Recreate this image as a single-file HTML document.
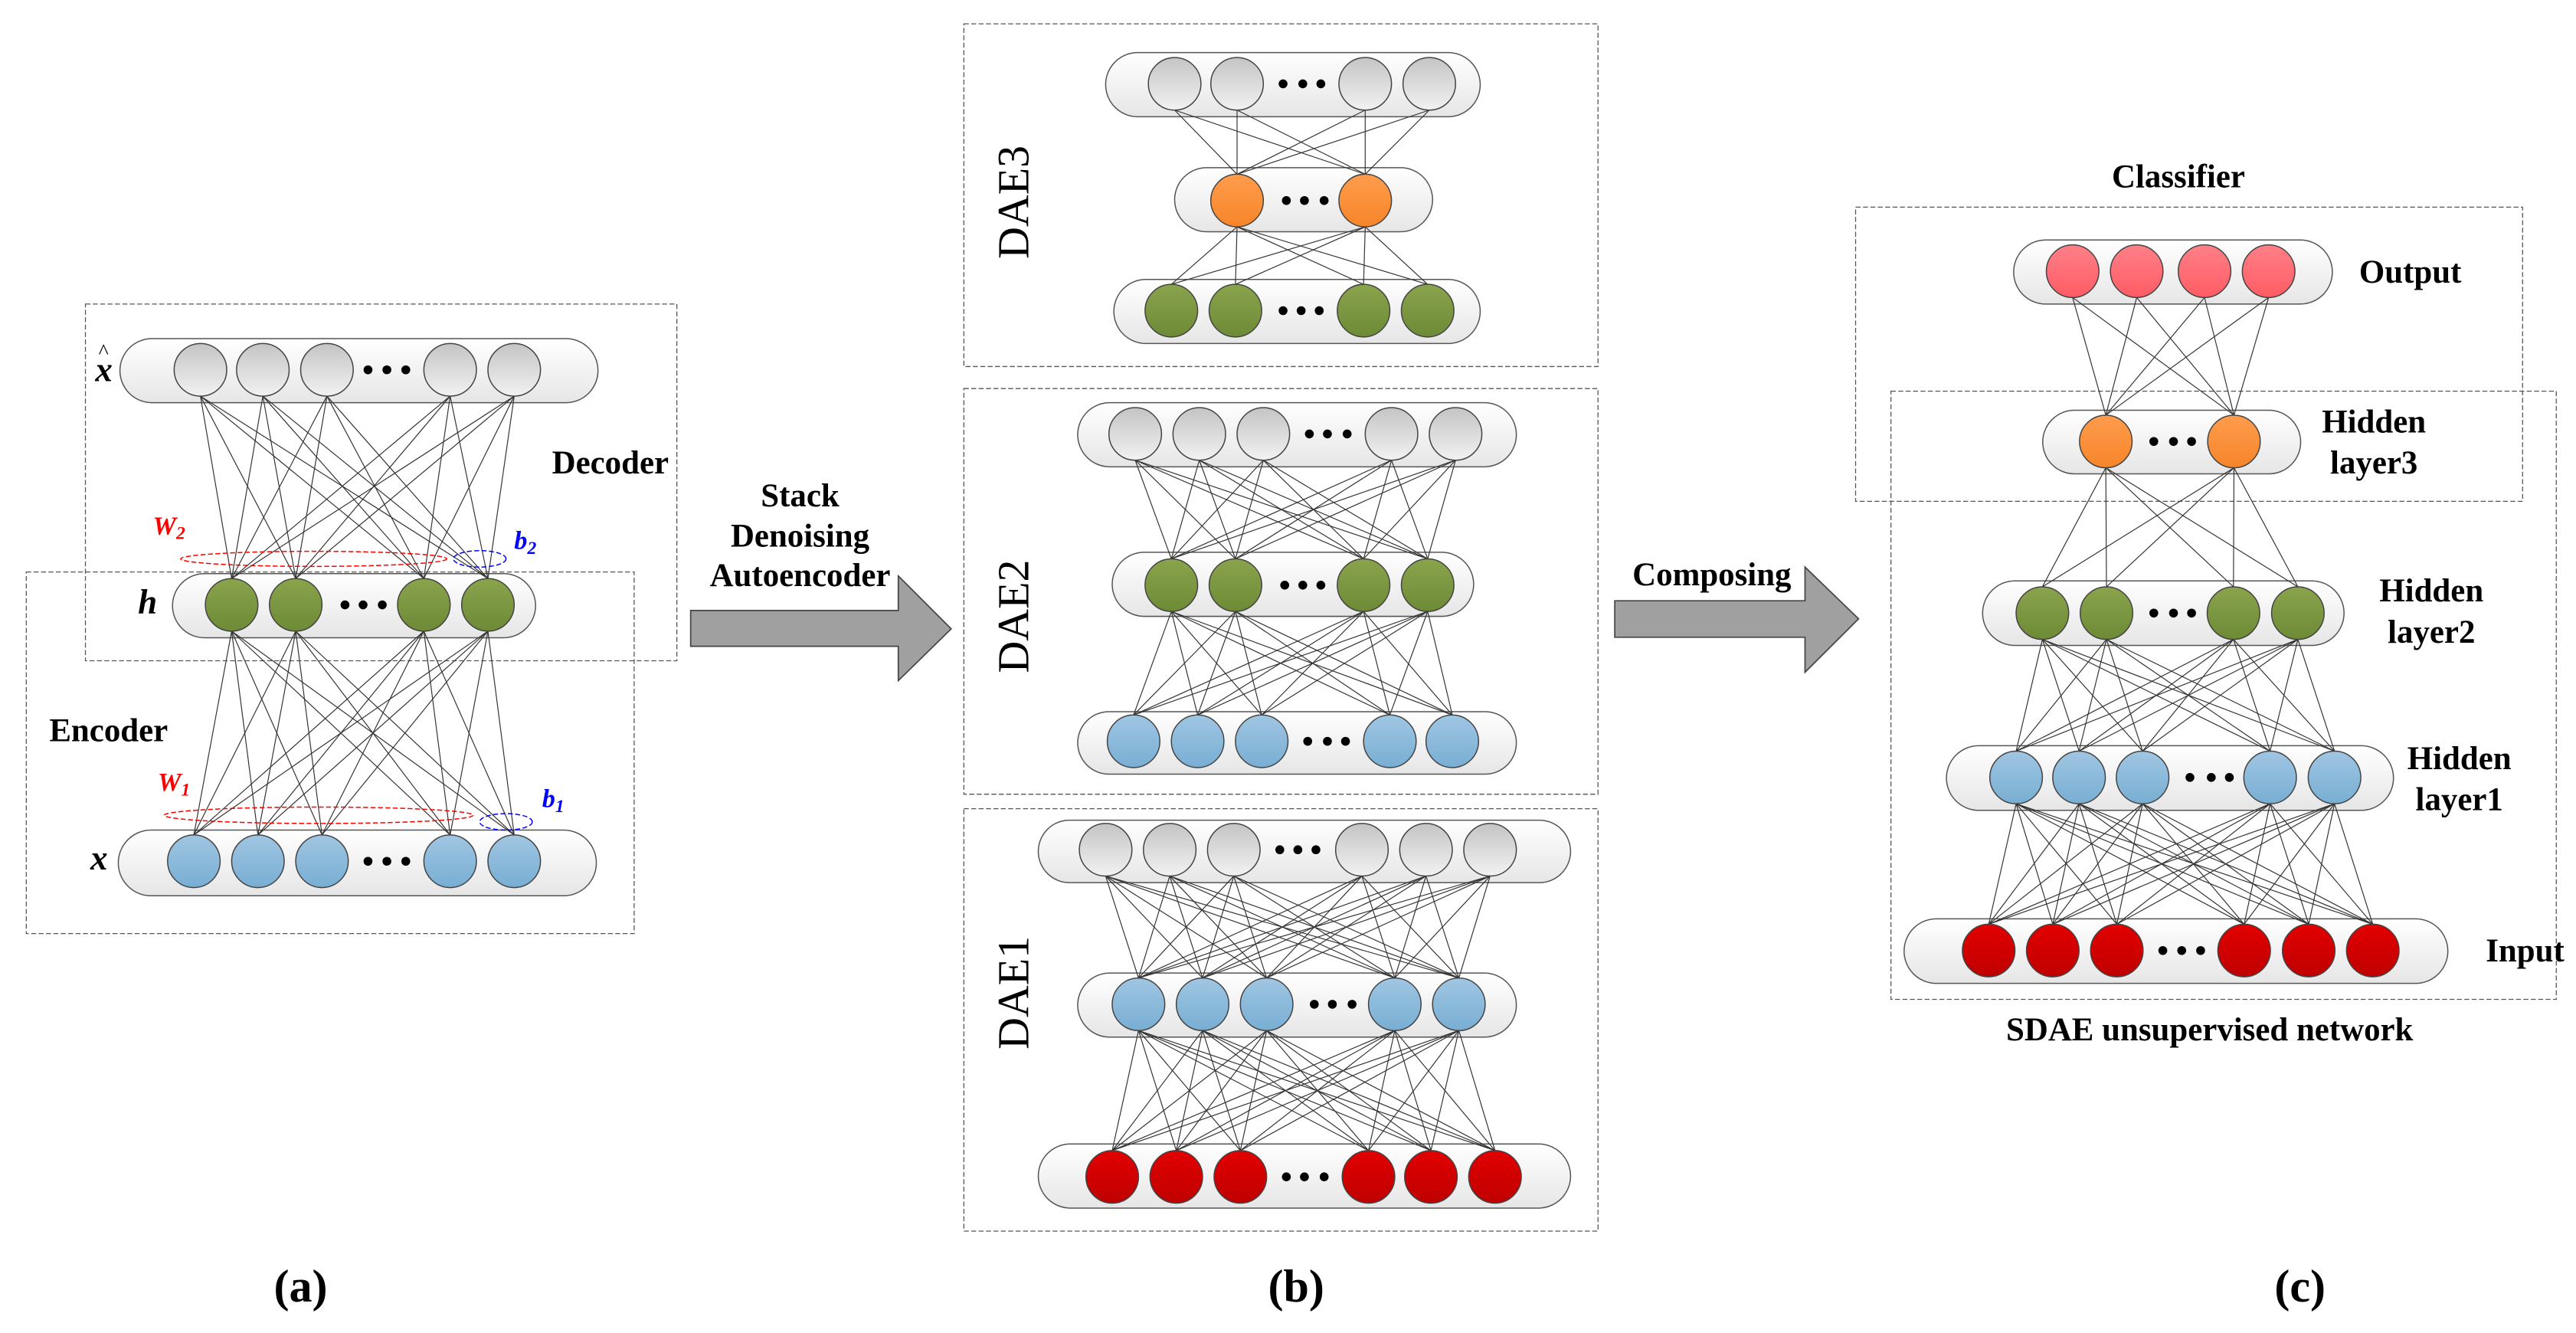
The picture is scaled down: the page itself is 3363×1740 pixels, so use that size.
<!DOCTYPE html>
<html><head><meta charset="utf-8"><style>
html,body{margin:0;padding:0;background:#fff;}
svg{display:block;}
svg text{font-family:"Liberation Serif","DejaVu Serif",serif !important;}
</style></head><body>
<svg id="s" xmlns="http://www.w3.org/2000/svg" width="3363" height="1740" viewBox="0 0 1568 811" preserveAspectRatio="none" font-family="Liberation Serif, DejaVu Serif, serif">
<defs>
<linearGradient id="pill" x1="0" y1="0" x2="0" y2="1"><stop offset="0" stop-color="#ffffff"/><stop offset="1" stop-color="#e6e6e6"/></linearGradient>
<linearGradient id="gray" x1="0" y1="0" x2="0" y2="1"><stop offset="0" stop-color="#c4c4c4"/><stop offset="1" stop-color="#f2f2f2"/></linearGradient>
<linearGradient id="green" x1="0" y1="0" x2="0" y2="1"><stop offset="0" stop-color="#8aa44c"/><stop offset="1" stop-color="#6d8a36"/></linearGradient>
<linearGradient id="blue" x1="0" y1="0" x2="0" y2="1"><stop offset="0" stop-color="#a0c6e2"/><stop offset="1" stop-color="#78aed3"/></linearGradient>
<linearGradient id="orange" x1="0" y1="0" x2="0" y2="1"><stop offset="0" stop-color="#ff9c4c"/><stop offset="1" stop-color="#f6852a"/></linearGradient>
<linearGradient id="red" x1="0" y1="0" x2="0" y2="1"><stop offset="0" stop-color="#e20000"/><stop offset="1" stop-color="#bf0000"/></linearGradient>
<linearGradient id="pink" x1="0" y1="0" x2="0" y2="1"><stop offset="0" stop-color="#ff8088"/><stop offset="1" stop-color="#ff5c64"/></linearGradient>
</defs>
<g fill="none" stroke="#555" stroke-width="0.6" stroke-dasharray="3,1.5">
<rect x="52" y="185" width="360" height="217"/>
<rect x="16" y="348" width="370" height="220"/>
<rect x="586.7" y="14.5" width="386" height="208.5"/>
<rect x="586.7" y="236.4" width="386" height="246.8"/>
<rect x="586.7" y="492" width="386" height="257"/>
<rect x="1129.5" y="126" width="406" height="179"/>
<rect x="1151" y="238" width="405" height="370"/>
</g>
<g id="net"></g>
<polygon points="420.4,371.4 546.8,371.4 546.8,350.4 579,382.6 546.8,414.1 546.8,393.2 420.4,393.2" fill="#a0a0a0" stroke="#444" stroke-width="0.8"/>
<polygon points="982.9,365.5 1098.7,365.5 1098.7,345 1131.3,376.5 1098.7,409 1098.7,387.7 982.9,387.7" fill="#a0a0a0" stroke="#444" stroke-width="0.8"/>
<ellipse cx="191" cy="340" rx="81" ry="4.6" fill="none" stroke="#f00" stroke-width="0.7" stroke-dasharray="3,1.5"/>
<ellipse cx="292" cy="340" rx="16" ry="5" fill="none" stroke="#00f" stroke-width="0.7" stroke-dasharray="3,1.5"/>
<ellipse cx="194" cy="496" rx="94" ry="5" fill="none" stroke="#f00" stroke-width="0.7" stroke-dasharray="3,1.5"/>
<ellipse cx="308" cy="500" rx="16" ry="5" fill="none" stroke="#00f" stroke-width="0.7" stroke-dasharray="3,1.5"/>
<g font-weight="bold" font-size="20" fill="#000" font-family="Liberation Serif, serif">
<text x="336" y="288">Decoder</text>
<text x="30" y="451">Encoder</text>
<text x="487" y="308" text-anchor="middle">Stack</text>
<text x="487" y="332.6" text-anchor="middle">Denoising</text>
<text x="487" y="356.6" text-anchor="middle">Autoencoder</text>
<text x="1042" y="356" text-anchor="middle">Composing</text>
<text x="1326" y="114" text-anchor="middle">Classifier</text>
<text x="1436" y="172">Output</text>
<text x="1445" y="263" text-anchor="middle">Hidden</text>
<text x="1445" y="288" text-anchor="middle">layer3</text>
<text x="1480" y="366" text-anchor="middle">Hidden</text>
<text x="1480" y="391" text-anchor="middle">layer2</text>
<text x="1497" y="468" text-anchor="middle">Hidden</text>
<text x="1497" y="493" text-anchor="middle">layer1</text>
<text x="1537" y="585" text-anchor="middle">Input</text>
<text x="1345" y="633" text-anchor="middle">SDAE unsupervised network</text>
</g>
<g font-weight="bold" font-size="28" fill="#000" text-anchor="middle" font-family="Liberation Serif, serif">
<text x="183" y="792">(a)</text>
<text x="789" y="792">(b)</text>
<text x="1400" y="792">(c)</text>
</g>
<g font-size="27" fill="#000" text-anchor="middle" font-family="Liberation Serif, serif">
<text transform="translate(626,123) rotate(-90)">DAE3</text>
<text transform="translate(626,375) rotate(-90)">DAE2</text>
<text transform="translate(626,604) rotate(-90)">DAE1</text>
</g>
<g font-weight="bold" font-style="italic" font-size="21" fill="#000" font-family="Liberation Serif, serif">
<text x="58" y="232">x</text>
<text x="60" y="218" font-size="13" font-style="normal" font-weight="normal">^</text>
<text x="84" y="373">h</text>
<text x="55" y="529">x</text>
</g>
<g font-weight="bold" font-style="italic" font-size="16" font-family="Liberation Serif, serif">
<text x="93" y="325" fill="#f00">W<tspan font-size="11" dy="3">2</tspan></text>
<text x="313" y="334" fill="#00f">b<tspan font-size="11" dy="3">2</tspan></text>
<text x="96" y="481" fill="#f00">W<tspan font-size="11" dy="3">1</tspan></text>
<text x="330" y="491" fill="#00f">b<tspan font-size="11" dy="3">1</tspan></text>
</g>
</svg>
<script>
(function(){
var NS="http://www.w3.org/2000/svg",g=document.getElementById("net");
function el(t,a){var e=document.createElementNS(NS,t);for(var k in a)e.setAttribute(k,a[k]);g.appendChild(e);return e;}
var R=16;
function Ly(xs,cy,c,p,d){return {xs:xs,cy:cy,c:c,p:p,d:d};}
var nets=[
 [Ly([122,160,199,274,313],225,"gray",[73,364,206,245],[224,235.5,247]),
  Ly([141,180,258,297],368,"green",[105,326,349,388],[210,221,232.7]),
  Ly([118,157,196,274,313],524,"blue",[72,363,505,545],[224,235.5,247])],
 [Ly([715,753,831,870],51,"gray",[673,901,32,71],[781,793,804]),
  Ly([753,831],122,"orange",[715,872,102,141],[783,794,806]),
  Ly([713,752,830,869],189,"green",[678,901,170,209],[781,792,803])],
 [Ly([691,730,769,847,886],264,"gray",[656,923,245,284],[797,808,820]),
  Ly([713,752,830,869],356,"green",[677,897,336,375],[782,793,804]),
  Ly([690,729,768,846,884],451,"blue",[656,923,433,471],[796,808,819])],
 [Ly([673,712,751,829,868,907],517,"gray",[632,956,499,537],[779,790,801]),
  Ly([693,732,771,849,888],611,"blue",[656,923,592,631],[800,811,823]),
  Ly([677,716,755,833,871,910],716,"red",[632,956,696,735],[783,794,806])],
 [Ly([1261.6,1300.6,1341.9,1380.9],165,"pink",[1225.7,1419.7,146,185],[]),
  Ly([1281.8,1359.8],268.6,"orange",[1243.4,1400.4,249.6,288.3],[1311,1323,1334]),
  Ly([1243.2,1282.2,1359.5,1398.7],373,"green",[1206.8,1426.8,353.4,392.7],[1311,1323,1334]),
  Ly([1227.2,1265.5,1304.2,1381.8,1421],473,"blue",[1184.8,1456.9,453.7,493],[1333,1346,1357]),
  Ly([1210.5,1249.5,1288.5,1366,1405.3,1444.3],578.3,"red",[1159,1490,559,598.3],[1316.5,1328,1339.5])]
];
nets.forEach(function(n){
 n.forEach(function(l){var p=l.p,h=p[3]-p[2];
  el("rect",{x:p[0],y:p[2],width:p[1]-p[0],height:h,rx:h/2,ry:h/2,fill:"url(#pill)",stroke:"#555","stroke-width":0.7});});
 for(var i=0;i<n.length-1;i++){var a=n[i],b=n[i+1];
  a.xs.forEach(function(x1){b.xs.forEach(function(x2){
   el("line",{x1:x1,y1:a.cy+R,x2:x2,y2:b.cy-R,stroke:"#333","stroke-width":0.55});});});}
 n.forEach(function(l){
  l.xs.forEach(function(x){el("circle",{cx:x,cy:l.cy,r:R,fill:"url(#"+l.c+")",stroke:"#444","stroke-width":0.7});});
  l.d.forEach(function(x){el("circle",{cx:x,cy:l.cy,r:2.7,fill:"#000"});});
 });
});
})();
</script>
</body></html>
